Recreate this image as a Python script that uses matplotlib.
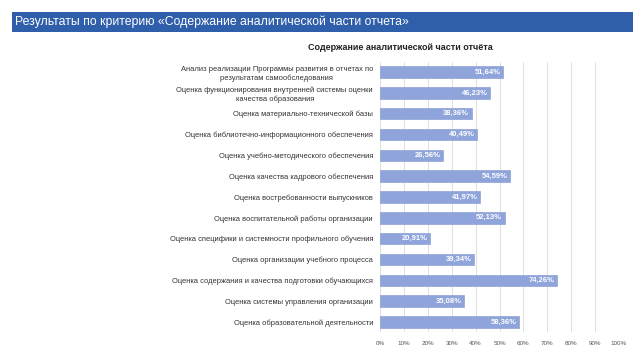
import matplotlib
matplotlib.use("Agg")
import matplotlib.pyplot as plt
from matplotlib.patches import Rectangle

categories = [
    "Анализ реализации Программы развития в отчетах по\nрезультатам самообследования",
    "Оценка функционирования внутренней системы оценки\nкачества образования",
    "Оценка материально-технической базы",
    "Оценка библиотечно-информационного обеспечения",
    "Оценка учебно-методического обеспечения",
    "Оценка качества кадрового обеспечения",
    "Оценка востребованности выпускников",
    "Оценка воспитательной работы организации",
    "Оценка специфики и системности профильного обучения",
    "Оценка организации учебного процесса",
    "Оценка содержания и качества подготовки обучающихся",
    "Оценка системы управления организации",
    "Оценка образовательной деятельности",
]
values = [51.64, 46.23, 38.36, 40.49, 26.56, 54.59, 41.97, 52.13, 20.91, 39.34, 74.26, 35.08, 58.36]
xticks = list(range(0, 101, 10))
header = "Результаты по критерию «Содержание аналитической части отчета»"
chart_title = "Содержание аналитической части отчёта"

plt.rcParams['font.family'] = ['Liberation Sans', 'DejaVu Sans']

fig = plt.figure(figsize=(6.4, 3.6), dpi=100)
fig.patch.set_facecolor('white')

# header banner
fig.patches.append(Rectangle((12/640, 1-32/360), (633-12)/640, 20/360,
                             transform=fig.transFigure, facecolor='#2F5EAB',
                             edgecolor='none'))
fig.text(15/640, 1-22/360, header, color='white', fontsize=8.8,
         va='center', ha='left')

ax = fig.add_axes([380/640, 1-332.4/360, (619-380)/640, (332.4-61.6)/360])
ypos = list(range(len(categories)))
ax.barh(ypos, values, height=0.55, color='#8FA4DA', edgecolor='#7F95CF',
        linewidth=0.4, zorder=3)
ax.set_ylim(len(categories)-0.5, -0.5)
ax.set_xlim(0, 100)
ax.set_yticks(ypos)
ax.set_yticklabels(categories, fontsize=5.4, color='#333333', linespacing=1.25)
for lbl in ax.get_yticklabels():
    lbl.set_multialignment('center')
ax.set_xticks(xticks)
ax.set_xticklabels([f"{t}%" for t in xticks], fontsize=4.5, color='#555555')
ax.tick_params(axis='both', length=0, pad=5)
ax.tick_params(axis='x', pad=6)
ax.grid(axis='x', color='#E0E0E0', linewidth=0.7, zorder=0)
for s in ax.spines.values():
    s.set_visible(False)

for y, v in zip(ypos, values):
    ax.text(v - 1.0, y, f"{v:.2f}%".replace('.', ','), ha='right', va='center',
            color='white', fontsize=5.5, fontweight='bold', zorder=4)

fig.text(400/640, 1-48/360, chart_title, ha='center', va='center',
         fontsize=6.5, fontweight='bold', color='#222222')

fig.savefig('out.png', dpi=100, facecolor='white')
